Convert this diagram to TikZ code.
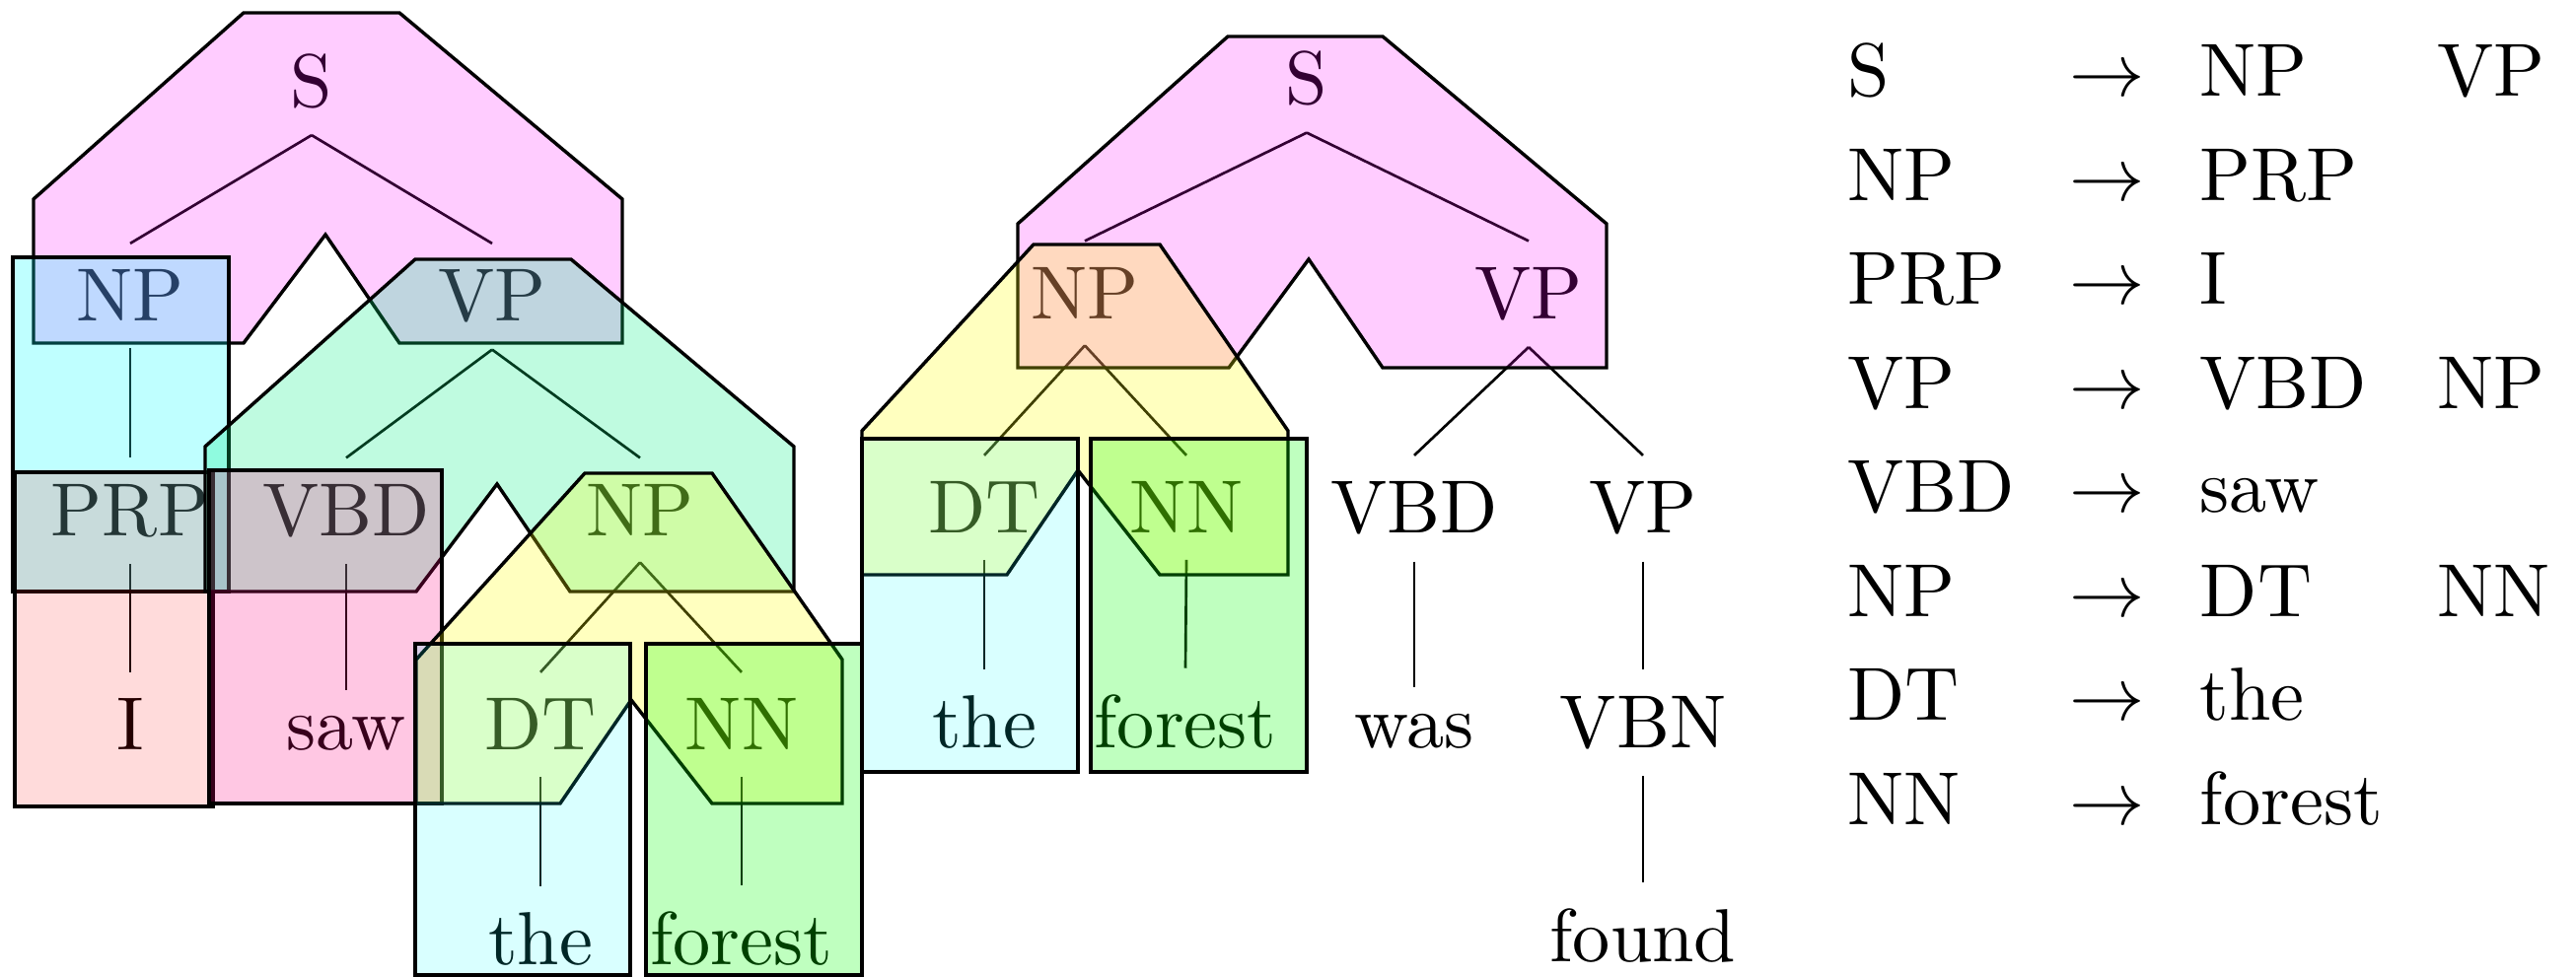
\documentclass[tikz,border=0pt]{standalone}
\usepackage{tikz}
\definecolor{mint}{RGB}{0,240,130}
\definecolor{rose}{RGB}{255,0,128}
\definecolor{pmagenta}{RGB}{255,0,255}
\definecolor{pcyan}{RGB}{0,255,255}
\definecolor{pyellow}{RGB}{255,255,0}
\tikzset{
    tn/.style={anchor=base},
    edge/.style={line width=0.35pt},
    region/.style={draw=black, line width=0.45pt},
    ruleS/.style={region, fill=pmagenta, fill opacity=0.2},
    ruleNP/.style={region, fill=pcyan, fill opacity=0.25},
    rulePRP/.style={region, fill=red, fill opacity=0.14},
    ruleVP/.style={region, fill=mint, fill opacity=0.25},
    ruleVBD/.style={region, fill=rose, fill opacity=0.22},
    ruleNPb/.style={region, fill=pyellow, fill opacity=0.25},
    ruleDT/.style={region, fill=pcyan, fill opacity=0.15},
    ruleNN/.style={region, fill=green, fill opacity=0.25},
}

\begin{document}
\begin{tikzpicture}[x=0.4607mm, y=-0.4607mm]
    \useasboundingbox (0,0) rectangle (261.2,99.1);

    % tree for "I saw the forest"
    \node[tn] (lS) at (31.6,10.85) {S};
    \node[tn] (lNP) at (13.2,32.6) {NP};
    \node[tn] (lVP) at (49.9,32.6) {VP};
    \node[tn] (lPRP) at (13.2,54.35) {PRP};
    \node[tn] (lVBD) at (35.1,54.35) {VBD};
    \node[tn] (lNPb) at (64.9,54.35) {NP};
    \node[tn] (lI) at (13.2,76.1) {I};
    \node[tn] (lsaw) at (35.1,76.1) {saw};
    \node[tn] (lDT) at (54.8,76.1) {DT};
    \node[tn] (lNN) at (75.2,76.1) {NN};
    \node[tn] (lthe) at (54.8,97.85) {the};
    \node[tn] (lforest) at (75.2,97.85) {forest};

    % tree for "the forest was found"
    \node[tn] (rS) at (132.5,10.6) {S};
    \node[tn] (rNP) at (110.0,32.35) {NP};
    \node[tn] (rVP) at (155.0,32.35) {VP};
    \node[tn] (rDT) at (99.8,54.1) {DT};
    \node[tn] (rNN) at (120.3,54.1) {NN};
    \node[tn] (rVBD) at (143.4,54.1) {VBD};
    \node[tn] (rVPb) at (166.6,54.1) {VP};
    \node[tn] (rthe) at (99.8,75.85) {the};
    \node[tn] (rforest) at (120.2,75.85) {forest};
    \node[tn] (rwas) at (143.4,75.85) {was};
    \node[tn] (rVBN) at (166.6,75.85) {VBN};
    \node[tn] (rfound) at (166.6,97.6) {found};

    \foreach \p/\c in {lS/lNP, lS/lVP, lNP/lPRP, lPRP/lI, lVP/lVBD, lVP/lNPb,
            lVBD/lsaw, lNPb/lDT, lNPb/lNN, lDT/lthe, lNN/lforest,
            rS/rNP, rS/rVP, rNP/rDT, rNP/rNN, rDT/rthe, rNN/rforest,
            rVP/rVBD, rVP/rVPb, rVBD/rwas, rVPb/rVBN, rVBN/rfound}
        \draw[edge] (\p.south) -- (\c.north);

    % one region per grammar rule, laid over the trees
    \filldraw[ruleS] (24.7,1.3) -- (40.5,1.3) -- (63.1,20.2) -- (63.1,34.8) -- (40.5,34.8)
        -- (33.0,23.8) -- (24.7,34.8) -- (3.4,34.8) -- (3.4,20.2) -- cycle;
    \filldraw[ruleNP] (1.3,26.1) rectangle (23.2,60.0);
    \filldraw[rulePRP] (1.5,47.9) rectangle (21.6,81.8);
    \filldraw[ruleVP] (42.1,26.3) -- (57.9,26.3) -- (80.5,45.3) -- (80.5,60.0) -- (57.8,60.0)
        -- (50.4,49.1) -- (42.2,60.0) -- (20.8,60.0) -- (20.8,45.3) -- cycle;
    \filldraw[ruleVBD] (21.2,47.7) rectangle (44.8,81.5);
    \filldraw[ruleNPb] (59.3,48.0) -- (72.2,48.0) -- (85.4,66.9) -- (85.4,81.5) -- (72.2,81.5)
        -- (64.0,71.0) -- (56.8,81.5) -- (42.2,81.5) -- (42.2,66.9) -- cycle;
    \filldraw[ruleDT] (42.1,65.3) rectangle (63.9,98.9);
    \filldraw[ruleNN] (65.5,65.3) rectangle (87.4,98.9);

    \filldraw[ruleS] (124.5,3.7) -- (140.2,3.7) -- (162.9,22.7) -- (162.9,37.3) -- (140.2,37.3)
        -- (132.7,26.3) -- (124.6,37.3) -- (103.2,37.3) -- (103.2,22.7) -- cycle;
    \filldraw[ruleNPb] (104.8,24.8) -- (117.6,24.8) -- (130.6,43.7) -- (130.6,58.3) -- (117.6,58.3)
        -- (109.3,47.7) -- (102.1,58.3) -- (87.4,58.3) -- (87.4,43.7) -- cycle;
    \filldraw[ruleDT] (87.4,44.5) rectangle (109.3,78.3);
    \filldraw[ruleNN] (110.6,44.5) rectangle (132.5,78.3);

    % the grammar
    \node[anchor=base west, inner sep=0pt] (rules) at (187.2,9.8) {%
        \setlength{\tabcolsep}{3.65pt}%
        \renewcommand{\arraystretch}{1.152}%
        \begin{tabular}[t]{@{}llll@{}}
            S & $\rightarrow$ & NP & VP \\
            NP & $\rightarrow$ & PRP & \\
            PRP & $\rightarrow$ & I & \\
            VP & $\rightarrow$ & VBD & NP \\
            VBD & $\rightarrow$ & saw & \\
            NP & $\rightarrow$ & DT & NN \\
            DT & $\rightarrow$ & the & \\
            NN & $\rightarrow$ & forest &
        \end{tabular}};
\end{tikzpicture}
\end{document}
